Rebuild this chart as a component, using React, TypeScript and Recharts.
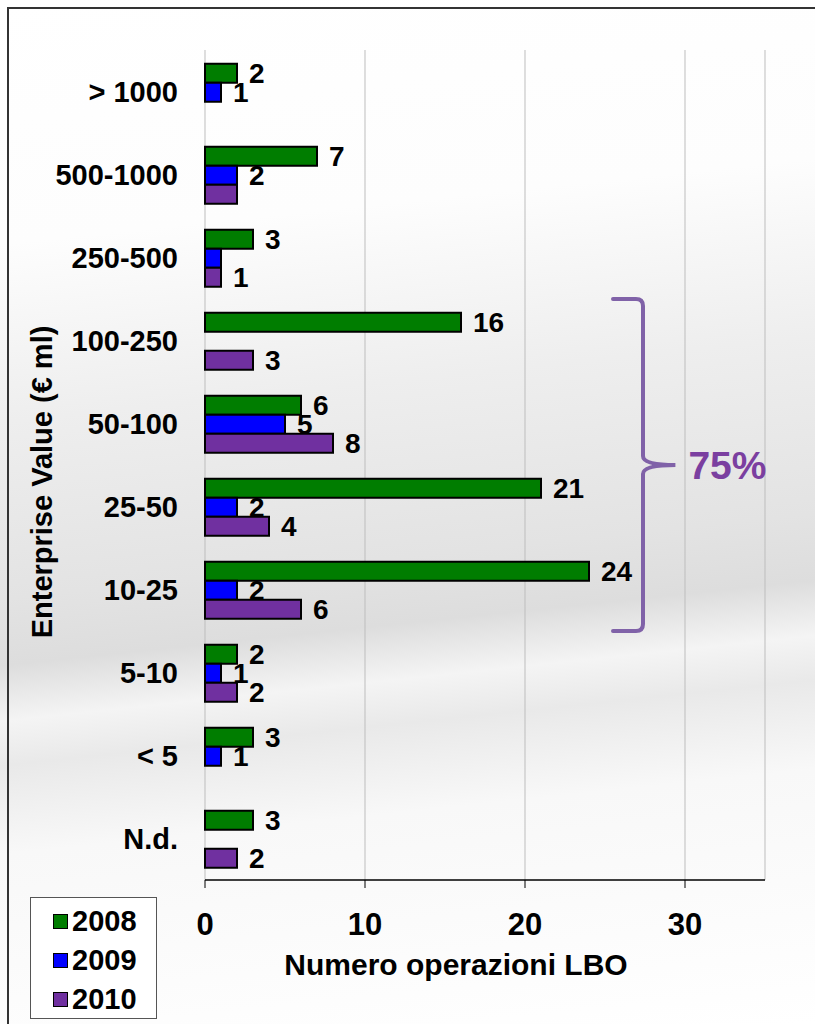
import React from 'react';
import {
  BarChart, Bar, XAxis, YAxis, CartesianGrid, LabelList, Legend, ReferenceArea,
} from 'recharts';

const categories = ['> 1000', '500-1000', '250-500', '100-250', '50-100', '25-50', '10-25', '5-10', '< 5', 'N.d.'];
const v2008 = [2, 7, 3, 16, 6, 21, 24, 2, 3, 3];
const v2009 = [1, 2, 1, null, 5, 2, 2, 1, 1, null];
const v2010 = [null, 2, 1, 3, 8, 4, 6, 2, null, 2];
// labels Excel did not show
const hidden2009 = ['250-500'];
const hidden2010 = ['500-1000'];

const xTicks = [0, 10, 20, 30];
const edgeTicks = [0, 1, 2, 3, 4, 5, 6, 7, 8, 9, 10];
const braceFrom = '100-250';
const braceTo = '10-25';
const braceText = '75%';

const SERIES = [
  { key: 'y2008', name: '2008', color: '#007D00' },
  { key: 'y2009', name: '2009', color: '#0000FF' },
  { key: 'y2010', name: '2010', color: '#7030A0' },
];

const FONT = '"Liberation Sans", Arial, sans-serif';

const data = categories.map((c, i) => ({
  cat: c,
  y2008: v2008[i],
  y2009: v2009[i],
  y2010: v2010[i],
  l2008: v2008[i],
  l2009: hidden2009.includes(c) ? null : v2009[i],
  l2010: hidden2010.includes(c) ? null : v2010[i],
}));

function renderLabel(props: any) {
  const { x, y, width, height, value } = props;
  if (value == null) return null;
  return (
    <text
      x={Number(x) + Number(width) + 12}
      y={Number(y) + Number(height) / 2}
      dominantBaseline="central"
      fontFamily={FONT}
      fontWeight="bold"
      fontSize={28}
      fill="#000"
    >
      {value}
    </text>
  );
}

function Brace(props: any) {
  const { x, y, width, height } = props;
  const mid = x + 30;
  const tip = x + width;
  const y0 = y;
  const y1 = y + height;
  const yc = y + height / 2;
  const d = `M ${x} ${y0} L ${mid - 7} ${y0} Q ${mid} ${y0} ${mid} ${y0 + 7}
    L ${mid} ${yc - 9} Q ${mid} ${yc} ${tip} ${yc} Q ${mid} ${yc} ${mid} ${yc + 9}
    L ${mid} ${y1 - 7} Q ${mid} ${y1} ${mid - 7} ${y1} L ${x} ${y1}`;
  return (
    <g>
      <path d={d} fill="none" stroke="#8062A8" strokeWidth={4} strokeLinecap="round" />
      <text x={tip + 13} y={yc + 14} fontFamily={FONT} fontWeight="bold" fontSize={39} fill="#7B3FA0">
        {braceText}
      </text>
    </g>
  );
}

function YTitle(props: any) {
  const vb = props.viewBox || {};
  const cx = vb.x + 42;
  const cy = vb.y + vb.height / 2 + 17;
  return (
    <text
      x={cx}
      y={cy}
      transform={`rotate(-90 ${cx} ${cy})`}
      textAnchor="middle"
      dominantBaseline="central"
      fontFamily={FONT}
      fontWeight="bold"
      fontSize={29}
      fill="#000"
    >
      Enterprise Value (€ ml)
    </text>
  );
}

function LegendBox() {
  return (
    <div
      style={{
        boxSizing: 'border-box',
        width: 127,
        height: 122,
        border: '1.5px solid #555',
        background: '#fff',
        padding: '4px 0 0 22px',
        fontFamily: FONT,
        fontWeight: 'bold',
        fontSize: 29,
      }}
    >
      {SERIES.map((s) => (
        <div key={s.key} style={{ display: 'flex', alignItems: 'center', height: 39 }}>
          <span
            style={{
              display: 'inline-block',
              width: 13,
              height: 13,
              background: s.color,
              border: '1.5px solid #000',
              marginRight: 4,
            }}
          />
          {s.name}
        </div>
      ))}
    </div>
  );
}

export default function App() {
  return (
    <div
      style={{
        position: 'relative',
        width: 815,
        height: 1024,
        overflow: 'hidden',
        background:
          'linear-gradient(174deg, #ffffff 0%, #fdfdfd 22%, #eeeeee 38%, #e3e3e3 54%, #dddddd 60%, #f4f4f4 65%, #e9e9e9 69%, #f8f8f8 77%, #ffffff 100%)',
      }}
    >
      <style>{'body{margin:0}'}</style>
      <div
        style={{
          position: 'absolute',
          left: 7,
          top: 7,
          right: 0,
          bottom: 0,
          borderLeft: '2px solid #333',
          borderTop: '2px solid #333',
        }}
      />
      <BarChart
        width={815}
        height={1024}
        data={data}
        layout="vertical"
        margin={{ top: 50, right: 50, bottom: 0, left: 0 }}
        barCategoryGap="16.5%"
        barGap={0}
        style={{ position: 'absolute', left: 0, top: 0 }}
      >
        <CartesianGrid horizontal={false} stroke="#bdbdbd" strokeWidth={1} />
        <XAxis
          type="number"
          domain={[0, 35]}
          ticks={xTicks}
          height={144}
          tickSize={8}
          tickMargin={25}
          stroke="#000"
          tickLine={{ stroke: '#000' }}
          axisLine={{ stroke: '#000', strokeWidth: 1.5 }}
          tick={{ fill: '#000', fontFamily: FONT, fontWeight: 'bold', fontSize: 31 }}
          label={{
            value: 'Numero operazioni LBO',
            position: 'insideBottom',
            offset: 49,
            dx: -29,
            style: { fill: '#000', fontFamily: FONT, fontWeight: 'bold', fontSize: 30 },
          }}
        />
        <YAxis
          yAxisId="edges"
          type="number"
          domain={[0, 10]}
          ticks={edgeTicks}
          width={0}
          tickSize={8}
          tick={false}
          tickLine={{ stroke: '#000' }}
          axisLine={{ stroke: '#000', strokeWidth: 1.5 }}
        />
        <YAxis
          yAxisId="cat"
          type="category"
          dataKey="cat"
          width={205}
          tickLine={false}
          axisLine={false}
          tickSize={8}
          tickMargin={19}
          tick={{ fill: '#000', fontFamily: FONT, fontWeight: 'bold', fontSize: 29 }}
          label={{ content: (p: any) => <YTitle {...p} /> }}
        />
        <ReferenceArea
          yAxisId="cat"
          x1={25.5}
          x2={29.4}
          y1={braceFrom}
          y2={braceTo}
          shape={(p: any) => <Brace {...p} />}
        />
        {SERIES.map((s) => (
          <Bar
            key={s.key}
            yAxisId="cat"
            dataKey={s.key}
            name={s.name}
            fill={s.color}
            stroke="#000"
            strokeWidth={2}
            isAnimationActive={false}
          >
            <LabelList dataKey={'l' + s.key.slice(1)} content={renderLabel} />
          </Bar>
        ))}
        <Legend
          layout="horizontal"
          verticalAlign="middle"
          align="center"
          wrapperStyle={{ left: 30, top: 897, width: 127, height: 122 }}
          content={() => <LegendBox />}
        />
      </BarChart>
    </div>
  );
}
